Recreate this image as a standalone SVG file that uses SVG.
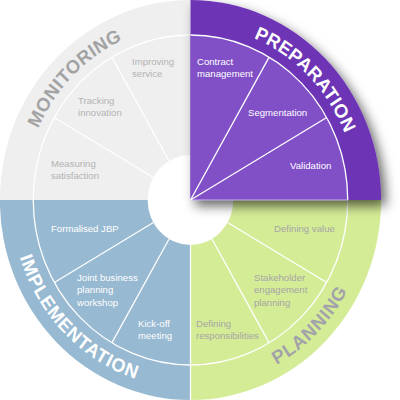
<svg xmlns="http://www.w3.org/2000/svg" width="400" height="400" viewBox="0 0 400 400">
<defs>
<filter id="shadow" x="-30%" y="-30%" width="160%" height="160%">
<feDropShadow dx="5" dy="6" stdDeviation="6" flood-color="#000" flood-opacity="0.6"/>
</filter>
<path id="pMon" d="M -175,0 A175,175 0 0 1 0,-175"/>
<path id="pPrep" d="M 0,-175 A175,175 0 0 1 175,0"/>
<path id="pPlan" d="M 0,188 A188,188 0 0 0 188,0"/>
<path id="pImpl" d="M -188,0 A188,188 0 0 0 0,188"/>
</defs>
<style>
.ln{stroke:#fff;stroke-width:1.3;fill:none;vector-effect:non-scaling-stroke}
.big{font-family:"Liberation Sans",Arial,sans-serif;font-weight:bold;font-size:19px}
.lbl{font-family:"Liberation Sans",Arial,sans-serif;font-size:9.6px}
.g{fill:#b3b3b3}
.w{fill:#ffffff}
.gr{fill:#a6a6a6}
</style>
<rect width="400" height="400" fill="#fff"/>
<g transform="translate(190.5,200) scale(0.953,1)">
<g id="monitoring">
<path d="M -200,0 A200,200 0 0 1 0,-200 L 0,-45 A45,45 0 0 0 -45,0 Z" fill="#efefef"/>
<path class="ln" d="M -165,0 A165,165 0 0 1 0,-165"/>
<path class="ln" d="M -142.9,-82.5 L -38.97,-22.5 M -82.5,-142.9 L -22.5,-38.97"/>
<text class="big" fill="#a3a3a3" letter-spacing="0.5"><textPath href="#pMon" startOffset="50%" text-anchor="middle">MONITORING</textPath></text>
</g>
<g id="planning">
<path d="M 200,0 A200,200 0 0 1 0,200 L 0,45 A45,45 0 0 0 45,0 Z" fill="#d5ec97"/>
<path class="ln" d="M 165,0 A165,165 0 0 1 0,165"/>
<path class="ln" d="M 142.9,82.5 L 38.97,22.5 M 82.5,142.9 L 22.5,38.97"/>
<text class="big" fill="#a2a2aa" letter-spacing="1"><textPath href="#pPlan" startOffset="50%" text-anchor="middle">PLANNING</textPath></text>
</g>
<g id="implementation">
<path d="M 0,200 A200,200 0 0 1 -200,0 L -45,0 A45,45 0 0 0 0,45 Z" fill="#97b9d1"/>
<path class="ln" d="M 0,165 A165,165 0 0 1 -165,0"/>
<path class="ln" d="M -82.5,142.9 L -22.5,38.97 M -142.9,82.5 L -38.97,22.5"/>
<text class="big" fill="#fff" letter-spacing="0.8"><textPath href="#pImpl" startOffset="50%" text-anchor="middle">IMPLEMENTATION</textPath></text>
</g>
<line class="ln" x1="0" y1="45" x2="0" y2="200" stroke-width="0.8"/>
<g id="preparation">
<g filter="url(#shadow)">
<path d="M 0,0 L 0,-200 A200,200 0 0 1 200,0 Z" fill="#6d34b6"/>
</g>
<path d="M 0,0 L 0,-165 A165,165 0 0 1 165,0 Z" fill="#8150c7"/>
<path class="ln" d="M 0,-165 A165,165 0 0 1 165,0"/>
<path d="M 0,0 L 165,0" stroke="#c9b3ea" stroke-width="1" fill="none" vector-effect="non-scaling-stroke"/>
<path class="ln" d="M 82.5,-142.9 L 0,0 M 142.9,-82.5 L 0,0"/>
<text class="big" fill="#fff" letter-spacing="0.3"><textPath href="#pPrep" startOffset="50%" text-anchor="middle">PREPARATION</textPath></text>
</g>
</g>
<g id="labels">
<text class="lbl w" x="197" y="64.5">Contract<tspan x="197" dy="12.5">management</tspan></text>
<text class="lbl w" x="248" y="116">Segmentation</text>
<text class="lbl w" x="290" y="169">Validation</text>
<text class="lbl g" x="132" y="64.5">Improving<tspan x="132" dy="12.5">service</tspan></text>
<text class="lbl g" x="78" y="103.5">Tracking<tspan x="78" dy="12.5">innovation</tspan></text>
<text class="lbl g" x="51" y="166.5">Measuring<tspan x="51" dy="12.5">satisfaction</tspan></text>
<text class="lbl w" x="51" y="232">Formalised JBP</text>
<text class="lbl w" x="77" y="280.5">Joint business<tspan x="77" dy="12.5">planning</tspan><tspan x="77" dy="12.5">workshop</tspan></text>
<text class="lbl w" x="138" y="326.5">Kick-off<tspan x="138" dy="12.5">meeting</tspan></text>
<text class="lbl gr" x="274" y="232">Defining value</text>
<text class="lbl gr" x="254" y="280.5">Stakeholder<tspan x="254" dy="12.5">engagement</tspan><tspan x="254" dy="12.5">planning</tspan></text>
<text class="lbl gr" x="196" y="326.5">Defining<tspan x="196" dy="12.5">responsibilities</tspan></text>
</g>
</svg>
